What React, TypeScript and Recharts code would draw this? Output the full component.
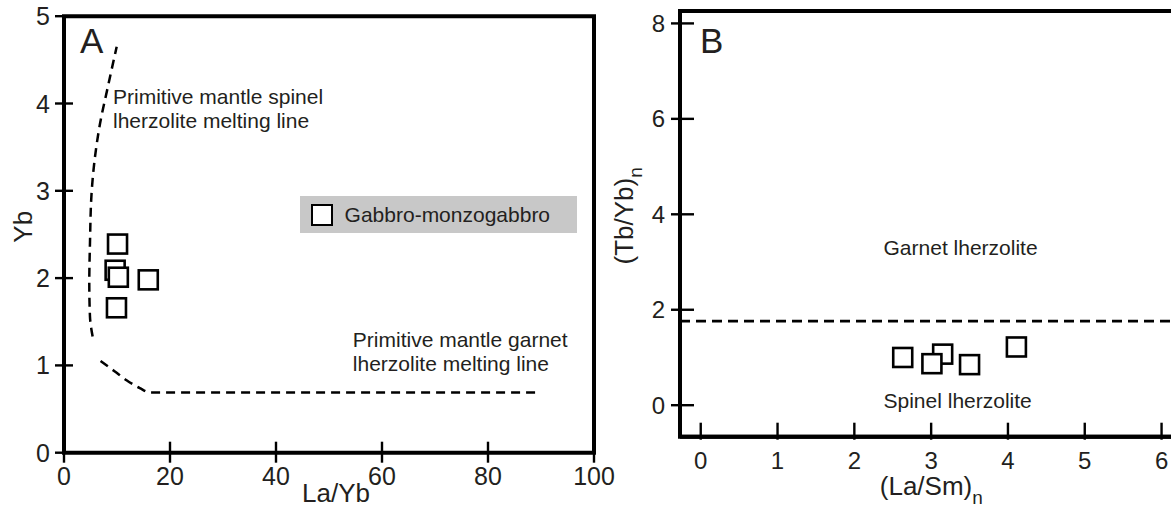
import React from 'react';
import {
  ComposedChart,
  Scatter,
  Line,
  XAxis,
  YAxis,
  ReferenceArea,
  ReferenceLine,
  ReferenceDot,
  Legend,
  Label,
} from 'recharts';

const FONT = '"Liberation Sans", Arial, Helvetica, sans-serif';
const INK = '#231f20';

// ---- panel A: Yb vs La/Yb ----
const sampleLaYb = [10.1, 9.65, 10.25, 15.9, 9.9];
const sampleYb = [2.39, 2.09, 2.01, 1.98, 1.66];

// primitive mantle spinel lherzolite melting line (bottom to top)
const spinelLaYb = [5.4, 4.9, 4.77, 4.9, 5.2, 5.85, 6.8, 8.2, 9.94];
const spinelYb = [1.33, 1.56, 1.94, 2.4, 2.97, 3.39, 3.77, 4.17, 4.65];

// primitive mantle garnet lherzolite melting line
const garnetLaYb = [6.9, 9.6, 11.8, 14.3, 16.2, 88.9];
const garnetYb = [1.05, 0.93, 0.83, 0.74, 0.69, 0.69];

const ticksLaYb = [0, 20, 40, 60, 80, 100];
const ticksYb = [0, 1, 2, 3, 4, 5];
const domainLaYb: [number, number] = [0, 100];
const domainYb: [number, number] = [0, 5];

// ---- panel B: (Tb/Yb)n vs (La/Sm)n ----
const sampleLaSmN = [2.63, 3.15, 3.01, 3.5, 4.11];
const sampleTbYbN = [1.0, 1.07, 0.87, 0.85, 1.22];
const garnetSpinelBoundary = 1.76;

const ticksLaSm = [0, 1, 2, 3, 4, 5, 6];
const ticksTbYb = [0, 2, 4, 6, 8];
const domainLaSm: [number, number] = [-0.27, 6.3];
const domainTbYb: [number, number] = [-0.66, 8.26];

const SERIES_NAME = 'Gabbro-monzogabbro';

const zip = (xs: number[], ys: number[]) => xs.map((x, i) => ({ x, y: ys[i] }));

const samplesA = zip(sampleLaYb, sampleYb);
const spinelLine = zip(spinelLaYb, spinelYb);
const garnetLine = zip(garnetLaYb, garnetYb);
const samplesB = zip(sampleLaSmN, sampleTbYbN);

const Square = (props: any) => {
  const { cx, cy } = props;
  if (cx == null || cy == null) return null;
  return (
    <rect x={cx - 9.5} y={cy - 9.5} width={19} height={19} fill="#fff" stroke="#000" strokeWidth={2.6} />
  );
};

const makeXTick = (fontSize: number, up: number, down: number, baseline: number) => (props: any) => {
  const { x, y, payload } = props;
  return (
    <g>
      <line x1={x} x2={x} y1={y - up} y2={y + down} stroke="#000" strokeWidth={2.4} />
      <text x={x} y={y + baseline} textAnchor="middle" fontSize={fontSize} fontFamily={FONT} fill={INK}>
        {payload.value}
      </text>
    </g>
  );
};

const makeYTick = (fontSize: number, left: number, right: number, gap: number) => (props: any) => {
  const { x, y, payload } = props;
  return (
    <g>
      <line x1={x - left} x2={x + right} y1={y} y2={y} stroke="#000" strokeWidth={2.4} />
      <text x={x - gap} y={y + fontSize * 0.36} textAnchor="end" fontSize={fontSize} fontFamily={FONT} fill={INK}>
        {payload.value}
      </text>
    </g>
  );
};

const noteText = (lines: string[], size = 21, lead = 24) => (props: any) => {
  const { cx, cy } = props;
  if (cx == null || cy == null) return null;
  return (
    <text x={cx} y={cy} fontSize={size} fontFamily={FONT} fill={INK}>
      {lines.map((t, i) => (
        <tspan key={t} x={cx} dy={i === 0 ? 0 : lead}>
          {t}
        </tspan>
      ))}
    </text>
  );
};

const LegendBox = (props: any) => {
  const entries = (props.payload ?? []).filter((e: any) => e.type !== 'none');
  return (
    <div
      style={{
        background: '#c8c8c8',
        width: 277,
        height: 37,
        display: 'flex',
        alignItems: 'center',
        boxSizing: 'border-box',
        paddingLeft: 11,
        fontFamily: FONT,
      }}
    >
      {entries.map((e: any) => (
        <div key={e.value} style={{ display: 'flex', alignItems: 'center' }}>
          <span
            style={{
              width: 21.6,
              height: 21.6,
              boxSizing: 'border-box',
              border: '2.6px solid #000',
              background: '#fff',
              marginRight: 12,
              marginTop: 2,
            }}
          />
          <span style={{ fontSize: 21, color: INK, lineHeight: '21px' }}>{e.value}</span>
        </div>
      ))}
    </div>
  );
};

function PanelA() {
  return (
    <ComposedChart width={620} height={512} margin={{ top: 16.2, right: 26, bottom: 19.3, left: 0 }}>
      <XAxis
        type="number"
        dataKey="x"
        domain={domainLaYb}
        ticks={ticksLaYb}
        interval={0}
        allowDataOverflow
        height={40}
        axisLine={false}
        tickLine={false}
        tickSize={0}
        tickMargin={0}
        tick={makeXTick(25, 11, 10, 32.6)}
      >
        <Label
          content={({ viewBox }: any) => (
            <text
              x={viewBox.x + viewBox.width / 2 + 7}
              y={viewBox.y + 49.3}
              textAnchor="middle"
              fontSize={26}
              fontFamily={FONT}
              fill={INK}
            >
              La/Yb
            </text>
          )}
        />
      </XAxis>
      <YAxis
        type="number"
        dataKey="y"
        domain={domainYb}
        ticks={ticksYb}
        interval={0}
        allowDataOverflow
        width={64}
        axisLine={false}
        tickLine={false}
        tickSize={0}
        tickMargin={0}
        tick={makeYTick(25, 9, 9, 14)}
      >
        <Label
          content={({ viewBox }: any) => {
            const x = viewBox.x + 31.7;
            const y = viewBox.y + viewBox.height / 2 - 7.7;
            return (
              <text
                x={x}
                y={y}
                transform={`rotate(-90 ${x} ${y})`}
                textAnchor="middle"
                fontSize={26}
                fontFamily={FONT}
                fill={INK}
              >
                Yb
              </text>
            );
          }}
        />
      </YAxis>
      <ReferenceArea
        x1={domainLaYb[0]}
        x2={domainLaYb[1]}
        y1={domainYb[0]}
        y2={domainYb[1]}
        fill="none"
        fillOpacity={0}
        stroke="#000"
        strokeWidth={4}
        label={({ viewBox }: any) => (
          <text x={viewBox.x + 16} y={viewBox.y + 37} fontSize={35} fontFamily={FONT} fill={INK}>
            A
          </text>
        )}
      />
      <Line
        data={spinelLine}
        dataKey="y"
        type="monotoneY"
        stroke="#000"
        strokeWidth={2.5}
        strokeDasharray="9 6"
        dot={false}
        activeDot={false}
        legendType="none"
        isAnimationActive={false}
      />
      <Line
        data={garnetLine}
        dataKey="y"
        type="monotoneX"
        stroke="#000"
        strokeWidth={2.5}
        strokeDasharray="9 6"
        dot={false}
        activeDot={false}
        legendType="none"
        isAnimationActive={false}
      />
      <ReferenceDot
        x={9.25}
        y={4.0}
        r={0}
        shape={noteText(['Primitive mantle spinel', 'lherzolite melting line'])}
      />
      <ReferenceDot
        x={54.5}
        y={1.21}
        r={0}
        shape={noteText(['Primitive mantle garnet', 'lherzolite melting line'])}
      />
      <Scatter name={SERIES_NAME} data={samplesA} shape={Square} legendType="square" isAnimationActive={false} />
      <Legend
        layout="horizontal"
        verticalAlign="middle"
        align="center"
        content={LegendBox}
        wrapperStyle={{ position: 'absolute', left: 300, top: 195.7, width: 277, height: 37 }}
      />
    </ComposedChart>
  );
}

function PanelB() {
  return (
    <ComposedChart width={600} height={512} margin={{ top: 11, right: 15.4, bottom: 30.3, left: 0 }}>
      <XAxis
        type="number"
        dataKey="x"
        domain={domainLaSm}
        ticks={ticksLaSm}
        interval={0}
        allowDataOverflow
        height={45}
        axisLine={{ stroke: '#000', strokeWidth: 4 }}
        tickLine={false}
        tickSize={0}
        tickMargin={0}
        tick={makeXTick(24, 14, 3, 32.3)}
      >
        <Label
          content={({ viewBox }: any) => (
            <text
              x={viewBox.x + viewBox.width / 2 - 1}
              y={viewBox.y + 58.3}
              textAnchor="middle"
              fontSize={26}
              fontFamily={FONT}
              fill={INK}
            >
              (La/Sm)
              <tspan fontSize={19} dy={9}>
                n
              </tspan>
            </text>
          )}
        />
      </XAxis>
      <YAxis
        type="number"
        dataKey="y"
        domain={domainTbYb}
        ticks={ticksTbYb}
        interval={0}
        allowDataOverflow
        width={80}
        axisLine={{ stroke: '#000', strokeWidth: 4 }}
        tickLine={false}
        tickSize={0}
        tickMargin={0}
        tick={makeYTick(24, 9, 14, 15)}
      >
        <Label
          content={({ viewBox }: any) => {
            const x = viewBox.x + 33;
            const y = viewBox.y + viewBox.height / 2 - 8;
            return (
              <text
                x={x}
                y={y}
                transform={`rotate(-90 ${x} ${y})`}
                textAnchor="middle"
                fontSize={26}
                fontFamily={FONT}
                fill={INK}
              >
                (Tb/Yb)
                <tspan fontSize={19} dy={9}>
                  n
                </tspan>
              </text>
            );
          }}
        />
      </YAxis>
      <ReferenceArea
        x1={domainLaSm[0]}
        x2={domainLaSm[1]}
        y1={domainTbYb[0]}
        y2={domainTbYb[1]}
        fill="none"
        fillOpacity={0}
        stroke="#000"
        strokeWidth={4}
        label={({ viewBox }: any) => (
          <text x={viewBox.x + 20} y={viewBox.y + 42.3} fontSize={35} fontFamily={FONT} fill={INK}>
            B
          </text>
        )}
      />
      <ReferenceLine y={garnetSpinelBoundary} stroke="#000" strokeWidth={2.8} strokeDasharray="10 6" />
      <ReferenceDot x={2.38} y={3.147} r={0} shape={noteText(['Garnet lherzolite'])} />
      <ReferenceDot x={2.38} y={-0.063} r={0} shape={noteText(['Spinel lherzolite'])} />
      <Scatter name={SERIES_NAME} data={samplesB} shape={Square} legendType="none" isAnimationActive={false} />
    </ComposedChart>
  );
}

export default function App() {
  return (
    <div
      style={{
        position: 'absolute',
        left: 0,
        top: 0,
        width: 1171,
        height: 512,
        overflow: 'hidden',
        background: '#fff',
        fontFamily: FONT,
      }}
    >
      <div style={{ position: 'absolute', left: 0, top: 0 }}>
        <PanelA />
      </div>
      <div style={{ position: 'absolute', left: 600, top: 0 }}>
        <PanelB />
      </div>
    </div>
  );
}
